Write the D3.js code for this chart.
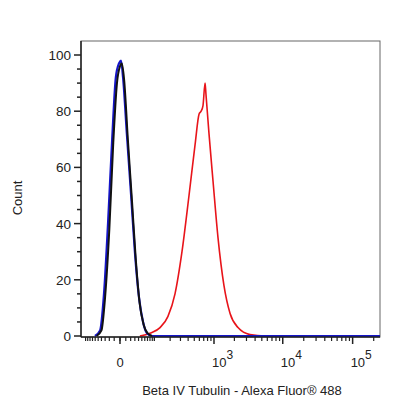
<!DOCTYPE html><html><head><meta charset="utf-8"><script src="https://cdn.jsdelivr.net/npm/d3@7"></script>
<style>body{margin:0;background:#fff}text{font-family:Arial,"Liberation Sans",sans-serif}</style></head><body><svg id="c" width="416" height="416"></svg><script>
const blueX=[-61,-44,-33,-23,-14,-7,-1.6,1.6,5,12,21,30,41,54,68,89,246000];
const blueY=[0,2,15,40,70,92,97,98,92,72,50,30,14,5,1,0,0];
const blackX=[-55,-40,-30,-20,-12,-5,0,3,7,14,23,32,43,56,70,89];
const blackY=[0,2,14,38,68,90,96,97,91,70,48,28,12,4,1,0];
const redX=[44,80,130,183,243,318,413,514,594,638,682,733,757,841,968,1147,1405,1730,2260,3375,5560,246000];
const redY=[0,1,3,7,15,30,50,68,79,80,82,90,86,72,55,35,18,8,3,0.5,0,0];
const yTicks=[0,20,40,60,80,100];
const xMajor=[0,1000,10000,100000];
const xLabels=["0","3","4","5"];
const svg=d3.select("#c");
const L=81,R=380,T=41,B=337;
const x=d3.scaleSymlog().constant(47.6).domain([-124,246000]).range([L,R]);
const y=d3.scaleLinear().domain([0,100]).range([336,55]);
svg.append("rect").attr("x",L).attr("y",T).attr("width",R-L).attr("height",B-T).attr("fill","none").attr("stroke","#666");
const line=d3.line().x(d=>x(d[0])).y(d=>y(d[1])).curve(d3.curveMonotoneX);
svg.append("path").attr("d",line(redX.map((v,i)=>[v,redY[i]]))).attr("fill","none").attr("stroke","#e8141a").attr("stroke-width",1.6);
svg.append("path").attr("d",line(blueX.map((v,i)=>[v,blueY[i]]))).attr("fill","none").attr("stroke","#1515c8").attr("stroke-width",2.2);
svg.append("path").attr("d",line(blackX.map((v,i)=>[v,blackY[i]]))).attr("fill","none").attr("stroke","#111").attr("stroke-width",2);
const ya=svg.append("g");
ya.append("line").attr("x1",L).attr("x2",L).attr("y1",T).attr("y2",B).attr("stroke","#222").attr("stroke-width",1.5);
for(let v=0;v<=100;v+=5){const big=v%20===0;ya.append("line").attr("x1",L-(big?7:4)).attr("x2",L).attr("y1",y(v)).attr("y2",y(v)).attr("stroke","#222").attr("stroke-width",1.5);}
yTicks.forEach(v=>ya.append("text").attr("x",L-10).attr("y",y(v)+5).attr("text-anchor","end").attr("font-size",13.5).attr("fill","#222").text(v));
svg.append("text").attr("transform","translate(22,198) rotate(-90)").attr("text-anchor","middle").attr("font-size",13).attr("fill","#222").text("Count");
const xa=svg.append("g");
xa.append("line").attr("x1",L).attr("x2",R).attr("y1",B).attr("y2",B).attr("stroke","#222").attr("stroke-width",1.5);
const minor=[];
for(let v=-100;v<=100;v+=10)minor.push(v);
[100,1000,10000,100000].forEach(d=>{for(let k=2;k<=9;k++)if(d*k<246000)minor.push(d*k);});
minor.push(100);
minor.forEach(v=>xa.append("line").attr("x1",x(v)).attr("x2",x(v)).attr("y1",B).attr("y2",B+4).attr("stroke","#222").attr("stroke-width",1.2));
xMajor.forEach(v=>xa.append("line").attr("x1",x(v)).attr("x2",x(v)).attr("y1",B).attr("y2",B+7).attr("stroke","#222").attr("stroke-width",1.5));
xMajor.forEach((v,i)=>{
 if(i===0){xa.append("text").attr("x",x(v)).attr("y",367).attr("text-anchor","middle").attr("font-size",13).attr("fill","#222").text("0");}
 else{const t=xa.append("text").attr("x",x(v)-2).attr("y",367).attr("text-anchor","start").attr("font-size",13).attr("fill","#222");
 t.append("tspan").text("10");t.append("tspan").attr("dy",-8).attr("font-size",12).text(xLabels[i]);}
});
svg.append("text").attr("x",242).attr("y",395).attr("text-anchor","middle").attr("font-size",13).attr("fill","#222").text("Beta IV Tubulin - Alexa Fluor® 488");
</script></body></html>
